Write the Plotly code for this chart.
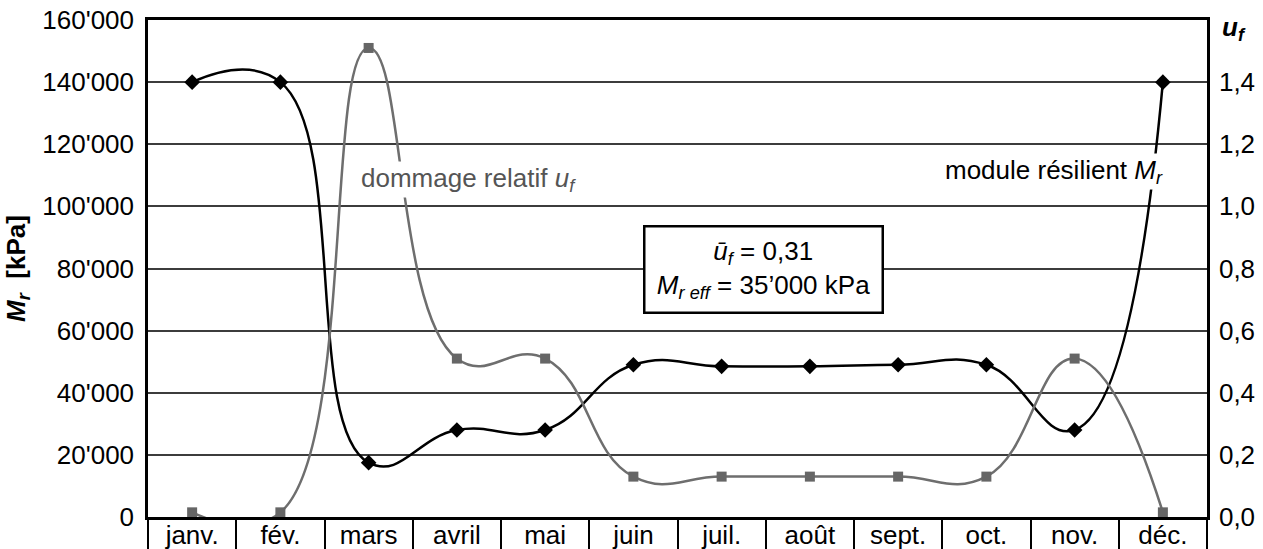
import plotly.graph_objects as go

# Mois de l'année (axe des catégories)
mois = ["janv.", "fév.", "mars", "avril", "mai", "juin",
        "juil.", "août", "sept.", "oct.", "nov.", "déc."]

# Module résilient M_r [kPa]
module_resilient = [140000, 140000, 17500, 28000, 28000, 49000,
                    48500, 48500, 49000, 49000, 28000, 140000]

# Dommage relatif u_f [-]
dommage_relatif = [0.015, 0.015, 1.51, 0.51, 0.51, 0.13,
                   0.13, 0.13, 0.13, 0.13, 0.51, 0.015]

# Graduations des deux axes verticaux
ticks_mr = [0, 20000, 40000, 60000, 80000, 100000, 120000, 140000, 160000]
labels_mr = ["0", "20'000", "40'000", "60'000", "80'000",
             "100'000", "120'000", "140'000", "160'000"]
ticks_uf = [0.0, 0.2, 0.4, 0.6, 0.8, 1.0, 1.2, 1.4]
labels_uf = ["0,0", "0,2", "0,4", "0,6", "0,8", "1,0", "1,2", "1,4"]

FONT = "Arial, Liberation Sans, sans-serif"
FS = 26
GRIS = "#6e6e6e"

fig = go.Figure()

# Courbes lissées (coupées au bord du graphique), puis marqueurs par-dessus
fig.add_trace(go.Scatter(
    x=mois, y=dommage_relatif, yaxis="y2", mode="lines",
    line=dict(color=GRIS, width=2.5, shape="spline", smoothing=1.3),
    cliponaxis=True, showlegend=False,
))
fig.add_trace(go.Scatter(
    x=mois, y=dommage_relatif, yaxis="y2", mode="markers",
    marker=dict(symbol="square", size=10, color="#666666"),
    cliponaxis=False, showlegend=False,
))
fig.add_trace(go.Scatter(
    x=mois, y=module_resilient, yaxis="y", mode="lines",
    line=dict(color="black", width=2.5, shape="spline", smoothing=1.3),
    cliponaxis=True, showlegend=False,
))
fig.add_trace(go.Scatter(
    x=mois, y=module_resilient, yaxis="y", mode="markers",
    marker=dict(symbol="diamond", size=12, color="black"),
    cliponaxis=False, showlegend=False,
))

fig.update_layout(
    width=1263, height=549,
    margin=dict(l=148, r=56, t=20, b=32, autoexpand=False),
    paper_bgcolor="white", plot_bgcolor="white",
    font=dict(family=FONT, size=FS, color="black"),
    xaxis=dict(
        type="category",
        range=[-0.5, 11.5], automargin=False,
        showgrid=False, zeroline=False,
        showline=True, linecolor="black", linewidth=2.5, mirror=True,
        ticks="outside", tickson="boundaries", ticklen=34,
        tickwidth=2, tickcolor="black",
        ticklabelstandoff=-7,
        tickfont=dict(size=FS),
    ),
    yaxis=dict(
        range=[0, 160000], automargin=False,
        tickvals=ticks_mr, ticktext=labels_mr,
        showgrid=True, gridcolor="#3c3c3c", gridwidth=1.5,
        zeroline=False,
        showline=True, linecolor="black", linewidth=2.5,
        ticks="", ticklabelstandoff=6,
        title=dict(text="<b><i>M<sub>r</sub></i>  [kPa]</b>",
                   font=dict(size=FS), standoff=10),
    ),
    yaxis2=dict(
        range=[0, 1.6], overlaying="y", side="right", automargin=False,
        tickvals=ticks_uf, ticktext=labels_uf,
        showgrid=False, zeroline=False,
        showline=True, linecolor="black", linewidth=2.5,
        ticks="", ticklabelstandoff=4,
    ),
)

annotations = [
    # Titre de l'axe de droite
    dict(text="<b><i>u<sub>f</sub></i></b>", xref="paper", yref="paper",
         x=1.0, y=1.0, xanchor="left", yanchor="top", xshift=13, yshift=10,
         showarrow=False, font=dict(size=FS)),
    # Étiquettes des courbes
    dict(text="dommage relatif <i>u<sub>f</sub></i>", x=3.13, y=108700,
         xref="x", yref="y", showarrow=False, bgcolor="white",
         font=dict(size=FS, color="#555555")),
    dict(text="module résilient <i>M<sub>r</sub></i>", x=9.77, y=111300,
         xref="x", yref="y", showarrow=False, bgcolor="white",
         font=dict(size=FS, color="black")),
    # Valeurs effectives
    dict(text="<i>ū<sub>f</sub></i> = 0,31<br>"
              "<i>M<sub>r eff</sub></i> = 35’000 kPa",
         x=6.47, y=79700, xref="x", yref="y", showarrow=False,
         bgcolor="white", bordercolor="black", borderwidth=2.5,
         width=234, height=82, align="center",
         font=dict(size=FS, color="black")),
]
fig.update_layout(annotations=annotations)

fig.write_html("out.html")
